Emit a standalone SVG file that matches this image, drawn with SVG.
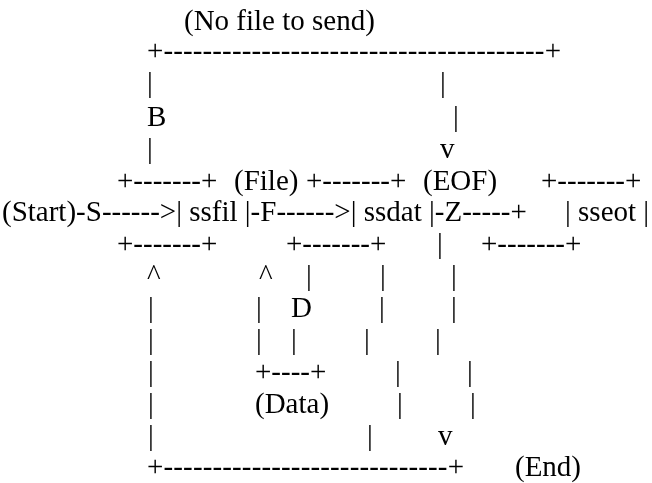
<svg xmlns="http://www.w3.org/2000/svg" width="652" height="483" viewBox="0 0 652 483">
<defs>
<style type="text/css">
.t { font-family: 'Liberation Serif', 'Times New Roman', serif; font-size: 29px; fill: #000000; }
</style>
<filter id="gray" x="0" y="0" width="652" height="483" filterUnits="userSpaceOnUse"><feOffset dx="0" dy="0"/></filter>
</defs>
<rect width="652" height="483" fill="#ffffff"/>
<g class="t" filter="url(#gray)" xml:space="preserve">
<g id="connectors">
  <text x="147" y="60" textLength="414" lengthAdjust="spacing">+---------------------------------------+</text>
  <text x="147" y="92">|</text><text x="440" y="92">|</text>
  <text x="147" y="126">B</text><text x="453" y="126">|</text>
  <text x="147" y="158">|</text><text x="440" y="158">v</text>
  <text x="76.1" y="221">-S------&gt;</text>
  <text x="250.6" y="221">-F------&gt;</text>
  <text x="434.8" y="221">-Z-----+</text>
  <text x="437" y="253">|</text>
  <text x="147" y="285">^</text><text x="259" y="285">^</text><text x="306" y="285">|</text><text x="380" y="285">|</text><text x="451" y="285">|</text>
  <text x="148" y="317">|</text><text x="256" y="317">|</text><text x="291" y="317">D</text><text x="379" y="317">|</text><text x="451" y="317">|</text>
  <text x="148" y="349">|</text><text x="256" y="349">|</text><text x="291" y="349">|</text><text x="364" y="349">|</text><text x="435" y="349">|</text>
  <text x="148" y="381">|</text><text x="255" y="381">+----+</text><text x="395" y="381">|</text><text x="467" y="381">|</text>
  <text x="148" y="413">|</text><text x="397" y="413">|</text><text x="470" y="413">|</text>
  <text x="148" y="445">|</text><text x="367" y="445">|</text><text x="438" y="445">v</text>
  <text x="147" y="476" textLength="317" lengthAdjust="spacing">+-----------------------------+</text>
</g>
<g id="no-file-label"><text x="184" y="30">(No file to send)</text></g>
<g id="file-label"><text x="234" y="190">(File)</text></g>
<g id="eof-label"><text x="423" y="190">(EOF)</text></g>
<g id="data-label"><text x="255" y="413">(Data)</text></g>
<g id="start"><text x="2" y="221">(Start)</text></g>
<g id="ssfil">
  <text x="117" y="190">+-------+</text>
  <text x="176.2" y="221">| ssfil |</text>
  <text x="117" y="253">+-------+</text>
</g>
<g id="ssdat">
  <text x="306" y="190">+-------+</text>
  <text x="350.7" y="221">| ssdat |</text>
  <text x="286" y="253">+-------+</text>
</g>
<g id="sseot">
  <text x="541" y="190">+-------+</text>
  <text x="565" y="221">| sseot |</text>
  <text x="481" y="253">+-------+</text>
</g>
<g id="end"><text x="515" y="476">(End)</text></g>
</g>
</svg>
